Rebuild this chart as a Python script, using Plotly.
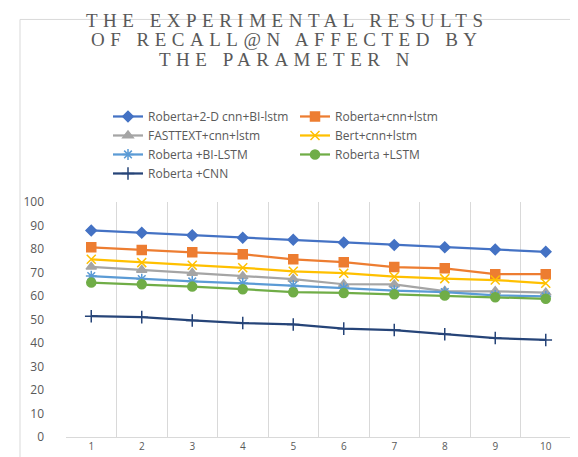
import plotly.graph_objects as go

N = [1, 2, 3, 4, 5, 6, 7, 8, 9, 10]
tick_labels = ["1", "2", "3", "4", "5", "6", "7", "8", "9", "10"]

title_lines = ["THE EXPERIMENTAL RESULTS", "OF RECALL@N AFFECTED BY", "THE PARAMETER N"]

roberta_2dcnn_bilstm = [87.9, 86.9, 85.8, 84.8, 83.9, 82.8, 81.7, 80.7, 79.8, 78.8]
roberta_cnn_lstm = [80.7, 79.6, 78.6, 77.8, 75.6, 74.4, 72.3, 71.8, 69.3, 69.3]
fasttext_cnn_lstm = [72.4, 71.1, 69.8, 68.4, 67.2, 65.0, 64.9, 62.1, 62.0, 61.4]
bert_cnn_lstm = [75.6, 74.2, 73.1, 72.0, 70.5, 69.7, 68.2, 67.4, 66.8, 65.4]
roberta_bilstm = [68.5, 67.2, 66.2, 65.4, 64.5, 63.4, 62.3, 61.7, 60.3, 59.8]
roberta_lstm = [65.7, 65.0, 64.0, 62.9, 61.6, 61.3, 60.7, 60.2, 59.5, 58.8]
roberta_cnn = [51.4, 51.0, 49.6, 48.5, 47.9, 46.1, 45.5, 43.7, 42.1, 41.3]

series = [
    ("Roberta+2-D cnn+BI-lstm", roberta_2dcnn_bilstm, "#4472C4", "diamond", 8),
    ("Roberta+cnn+lstm", roberta_cnn_lstm, "#ED7D31", "square", 9),
    ("FASTTEXT+cnn+lstm", fasttext_cnn_lstm, "#A5A5A5", "triangle-up", 9),
    ("Bert+cnn+lstm", bert_cnn_lstm, "#FFC000", "x-thin-open", 9),
    ("Roberta +BI-LSTM", roberta_bilstm, "#5B9BD5", "asterisk-open", 9),
    ("Roberta +LSTM", roberta_lstm, "#70AD47", "circle", 9),
    ("Roberta +CNN", roberta_cnn, "#264478", "cross-thin-open", 9),
]

fig = go.Figure()
for name, vals, color, sym, sz in series:
    fig.add_trace(go.Scatter(
        x=N, y=vals, name=name, mode="lines+markers",
        line=dict(color=color, width=2.25),
        marker=dict(symbol=sym, size=sz, color=color,
                    line=dict(color=color, width=1.5)),
    ))

PL, PR, PT, PB = 58, 15, 194, 21
PW, PH = 578 - PL - PR, 457 - PT - PB


def px_to_paper_y(py):
    return 1 + (PT - py) / PH


def px_to_paper_x(px):
    return (px - PL) / PW


fig.update_layout(
    width=578, height=457,
    margin=dict(l=PL, r=PR, t=PT, b=PB),
    paper_bgcolor="white", plot_bgcolor="white",
    legend=dict(
        orientation="h", x=px_to_paper_x(100), xanchor="left",
        y=px_to_paper_y(91), yanchor="top",
        entrywidth=142, entrywidthmode="pixels",
        font=dict(family="Open Sans", size=12, color="#595959"),
        tracegroupgap=0, itemwidth=30,
        bgcolor="rgba(0,0,0,0)",
    ),
    showlegend=True,
)

# three-line title, letter-spaced serif capitals
for line, cy in zip(title_lines, [7.5, 27, 47.5]):
    fig.add_annotation(
        text='<span style="letter-spacing:5.5px">' + line + '</span>',
        xref="paper", yref="paper", x=px_to_paper_x(279), y=px_to_paper_y(cy),
        xanchor="center", yanchor="middle", showarrow=False,
        font=dict(family="Liberation Serif", size=19, color="#595959"),
    )

fig.update_xaxes(
    range=[0.5, 10.5], tickvals=N, ticktext=tick_labels,
    showgrid=False, showline=True, linecolor="#D9D9D9", linewidth=1,
    ticks="", tickfont=dict(family="Open Sans", size=10, color="#595959"),
    minor=dict(tickvals=[i + 0.5 for i in range(0, 11)], showgrid=True,
               gridcolor="#D9D9D9", gridwidth=1, ticks=""),
    zeroline=False,
)
fig.update_yaxes(
    range=[0, 100], dtick=10, showgrid=False, showline=False, zeroline=False,
    ticks="", tickfont=dict(family="Open Sans", size=12, color="#595959"),
    ticklabelstandoff=21,
)

# outer chart border (top and left edges visible)
fig.add_shape(type="line", xref="paper", yref="paper",
              x0=px_to_paper_x(12), x1=px_to_paper_x(580),
              y0=px_to_paper_y(6), y1=px_to_paper_y(6),
              line=dict(color="#D9D9D9", width=1))
fig.add_shape(type="line", xref="paper", yref="paper",
              x0=px_to_paper_x(12), x1=px_to_paper_x(12),
              y0=px_to_paper_y(460), y1=px_to_paper_y(6),
              line=dict(color="#D9D9D9", width=1))

fig.write_html("out.html")
